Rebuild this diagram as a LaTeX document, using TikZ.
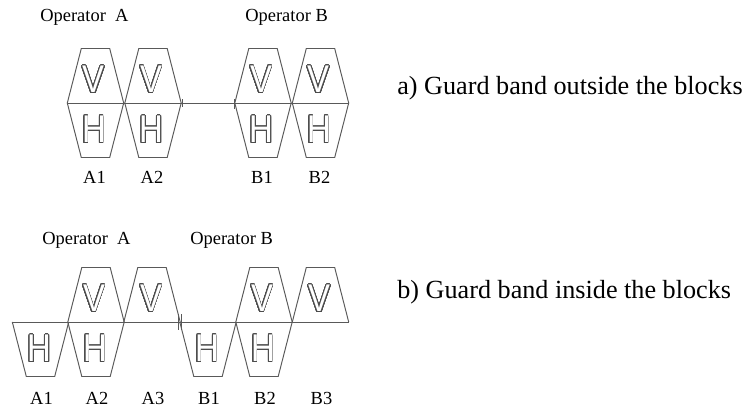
\documentclass[tikz,border=0pt]{standalone}
\usepackage{fontspec}
\setmainfont{Liberation Serif}
\newfontfamily\blkfont{Liberation Sans}
\usepackage{contour}
\contourlength{0.55pt}
\contournumber{32}
\newcommand{\hollow}[1]{{\color{white}\contour{black!70}{#1}}}
\tikzset{
  band/.style={draw=black!65, line width=0.55pt},
  sym/.style={font=\blkfont\fontsize{22}{22}\selectfont, xscale=0.85, inner sep=0pt},
  lbl/.style={font=\fontsize{10.5}{12}\selectfont, inner sep=0pt},
  captxt/.style={font=\fontsize{14.9}{18}\selectfont, anchor=west, inner sep=0pt}
}
% block halves: #1 = centre x, #2 = y of the band line
\newcommand{\upblk}[2]{\draw [band] (#1-28.2,#2)--(#1-14.2,#2-54.5)--(#1+14.2,#2-54.5)--(#1+28.2,#2);}
\newcommand{\dnblk}[2]{\draw [band] (#1-28.2,#2)--(#1-14.2,#2+54.5)--(#1+14.2,#2+54.5)--(#1+28.2,#2);}

\begin{document}
\begin{tikzpicture}[x=0.02cm,y=-0.02cm]
\useasboundingbox (0,0) rectangle (745,407);

% a) guard band outside the blocks
\node [lbl,anchor=west] (opAa) at (40,17) {Operator~~A};
\node [lbl,anchor=west] (opBa) at (245,17) {Operator B};
\coordinate (aL) at (67,103);
\coordinate (aR) at (349,103);
\draw [band] (aL)--(aR);
\foreach \x/\n in {95.5/A1,153/A2,263/B1,320.5/B2}{
  \upblk{\x}{103}
  \dnblk{\x}{103}
  \node [sym] (aV\n) at (\x-2,80) {\hollow{V}};
  \node [sym] (aH\n) at (\x-1.5,130) {\hollow{H}};
  \node [lbl] (a\n) at (\x-1,177) {\n};
}
\draw [band] (182,99)--(182,107);
\draw [band] (234,99)--(234,109);
\node [captxt] (capa) at (397,88) {a) Guard band outside the blocks};

% b) guard band inside the blocks
\node [lbl,anchor=west] (opAb) at (42,240) {Operator~~A};
\node [lbl,anchor=west] (opBb) at (190,240) {Operator B};
\coordinate (bL) at (12,322);
\coordinate (bR) at (348.5,322);
\draw [band] (bL)--(bR);
\foreach \x/\n in {96/A2,264/B2}{
  \upblk{\x}{322}
  \node [sym] (bV\n) at (\x-2,299) {\hollow{V}};
}
\foreach \x/\n in {152/A3,320.5/B3}{
  \upblk{\x}{322}
  \node [sym] (bV\n) at (\x-1,299) {\hollow{V}};
}
\foreach \x/\n in {40.5/A1,96/A2,208/B1,264/B2}{
  \dnblk{\x}{322}
  \node [sym] (bH\n) at (\x-1,349) {\hollow{H}};
}
\foreach \x/\n in {40.5/A1,96/A2,152/A3,208/B1,264/B2,320.5/B3}
  \node [lbl] (b\n) at (\x+1,398) {\n};
\draw [band] (178.5,314)--(178.5,330);
\draw [band] (181,314)--(181,330);
\node [captxt] (capb) at (397,292) {b) Guard band inside the blocks};
\end{tikzpicture}
\end{document}
